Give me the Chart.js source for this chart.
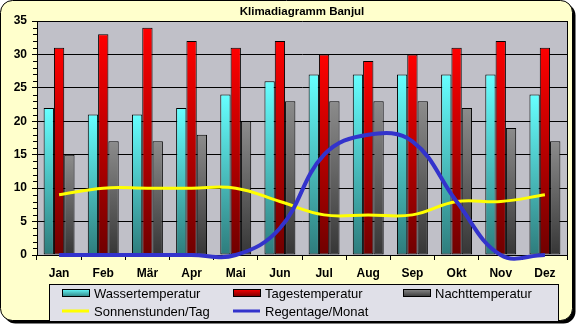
<!DOCTYPE html>
<html>
<head>
<meta charset="utf-8">
<script src="https://cdn.jsdelivr.net/npm/chart.js@4.4.1/dist/chart.umd.min.js"></script>
<style>
  html, body { margin: 0; padding: 0; background: #fff; }
</style>
</head>
<body>
<canvas id="klima" width="579" height="327"></canvas>
<script>
const months = ['Jan', 'Feb', 'Mär', 'Apr', 'Mai', 'Jun', 'Jul', 'Aug', 'Sep', 'Okt', 'Nov', 'Dez'];
const wasserTemp = [22, 21, 21, 22, 24, 26, 27, 27, 27, 27, 27, 24];
const tagesTemp = [31, 33, 34, 32, 31, 32, 30, 29, 30, 31, 32, 31];
const nachtTemp = [15, 17, 17, 18, 20, 23, 23, 23, 23, 22, 19, 17];
const sonnenstunden = [9, 10, 10, 10, 10, 8, 6, 6, 6, 8, 8, 9];
const regentage = [0, 0, 0, 0, 0, 4, 15, 18, 17, 8, 0, 0];
const yTicks = [0, 5, 10, 15, 20, 25, 30, 35];

const FONT = '"Liberation Sans", Arial, sans-serif';

// bar fill: light at the top of each bar, dark at the base
function barGradient(top, bottom) {
    return (context) => {
        const chart = context.chart;
        if (!chart.chartArea || context.parsed === undefined) return top;
        const y = chart.scales.y;
        const g = chart.ctx.createLinearGradient(0, y.getPixelForValue(context.parsed.y), 0, y.getPixelForValue(0));
        g.addColorStop(0, top);
        g.addColorStop(1, bottom);
        return g;
    };
}

function roundRect(ctx, x, y, w, h, r) {
    ctx.beginPath();
    ctx.moveTo(x + r, y);
    ctx.arcTo(x + w, y, x + w, y + h, r);
    ctx.arcTo(x + w, y + h, x, y + h, r);
    ctx.arcTo(x, y + h, x, y, r);
    ctx.arcTo(x, y, x + w, y, r);
    ctx.closePath();
}

const barColors = [
    ['#66FFFF', '#2E7C7C'],
    ['#FF0000', '#700000'],
    ['#8C8C8C', '#363636']
];

// frame, plot background, minor ticks and the legend box
const decorations = {
    id: 'decorations',
    beforeDraw(chart) {
        const ctx = chart.ctx;
        const a = chart.chartArea;
        ctx.save();
        roundRect(ctx, 3.5, 3.5, 572, 320, 12);
        ctx.fillStyle = '#000';
        ctx.fill();
        roundRect(ctx, 0.5, 0.5, 572, 320, 12);
        ctx.fillStyle = '#FFFFCC';
        ctx.fill();
        ctx.strokeStyle = '#000';
        ctx.lineWidth = 1;
        ctx.stroke();
        ctx.fillStyle = '#C0C0C8';
        ctx.fillRect(a.left, a.top, a.right - a.left, a.bottom - a.top);
        ctx.restore();
    },
    afterDraw(chart) {
        const ctx = chart.ctx;
        const a = chart.chartArea;
        const y = chart.scales.y;
        ctx.save();
        ctx.strokeStyle = '#000';
        ctx.lineWidth = 1;
        ctx.beginPath();
        for (let v = y.min; v <= y.max; v++) {
            if (v % 5 === 0) continue;
            const py = Math.round(y.getPixelForValue(v)) + 0.5;
            ctx.moveTo(a.left - 4, py);
            ctx.lineTo(a.left, py);
        }
        ctx.moveTo(Math.round(a.right) + 0.5, a.top);
        ctx.lineTo(Math.round(a.right) + 0.5, a.bottom);
        ctx.stroke();

        // legend
        ctx.fillStyle = '#E0E0E8';
        ctx.fillRect(49, 284, 509, 37);
        ctx.strokeRect(49.5, 284.5, 509, 37);
        const slots = [[62, 293], [233, 293], [403, 293], [62, 311], [233, 311]];
        ctx.font = '13px ' + FONT;
        ctx.textBaseline = 'middle';
        chart.data.datasets.forEach((ds, i) => {
            const [sx, sy] = slots[i];
            if (ds.type === 'line') {
                ctx.strokeStyle = ds.borderColor;
                ctx.lineWidth = 3;
                ctx.beginPath();
                ctx.moveTo(sx, sy);
                ctx.lineTo(sx + 27, sy);
                ctx.stroke();
            } else {
                const g = ctx.createLinearGradient(0, sy - 4, 0, sy + 4);
                g.addColorStop(0, barColors[i][0]);
                g.addColorStop(1, barColors[i][1]);
                ctx.fillStyle = g;
                ctx.fillRect(sx, sy - 4, 27, 8);
                ctx.strokeStyle = '#000';
                ctx.lineWidth = 1;
                ctx.strokeRect(sx + 0.5, sy - 3.5, 27, 7);
            }
            ctx.fillStyle = '#000';
            ctx.fillText(ds.label, sx + 32, sy + 1);
        });

        ctx.font = 'bold 11.5px ' + FONT;
        ctx.textAlign = 'center';
        ctx.fillText('Klimadiagramm Banjul', (a.left + a.right) / 2, 12);
        ctx.restore();
    }
};

new Chart(document.getElementById('klima'), {
    data: {
        labels: months,
        datasets: [
            { type: 'bar', label: 'Wassertemperatur', data: wasserTemp, order: 2,
              backgroundColor: barGradient(...barColors[0]) },
            { type: 'bar', label: 'Tagestemperatur', data: tagesTemp, order: 2,
              backgroundColor: barGradient(...barColors[1]) },
            { type: 'bar', label: 'Nachttemperatur', data: nachtTemp, order: 2,
              backgroundColor: barGradient(...barColors[2]) },
            { type: 'line', label: 'Sonnenstunden/Tag', data: sonnenstunden, order: 1,
              borderColor: '#FFFF00', borderWidth: 3, tension: 0.4, pointRadius: 0, clip: false },
            { type: 'line', label: 'Regentage/Monat', data: regentage, order: 0,
              borderColor: '#3333CC', borderWidth: 4, tension: 0.4, pointRadius: 0, clip: false }
        ]
    },
    options: {
        responsive: false,
        animation: false,
        layout: { padding: { left: 0, right: 12, top: 21, bottom: 42 } },
        datasets: {
            bar: { borderColor: '#000', borderWidth: 1, borderSkipped: false,
                   categoryPercentage: 0.7, barPercentage: 1 }
        },
        elements: { line: { capBezierPoints: false } },
        plugins: {
            legend: { display: false },
            title: { display: false },
            tooltip: { enabled: false }
        },
        scales: {
            x: {
                grid: { display: true, drawOnChartArea: false, offset: true, color: '#000', tickLength: 5 },
                border: { color: '#000' },
                ticks: { color: '#000', font: { family: FONT, size: 12, weight: 'bold' }, padding: 6 },
                afterFit: (scale) => { scale.height = 30; }
            },
            y: {
                min: 0,
                max: 35,
                afterBuildTicks: (scale) => { scale.ticks = yTicks.map(v => ({ value: v })); },
                grid: { color: '#000', tickLength: 5 },
                border: { color: '#000' },
                ticks: { color: '#000', font: { family: FONT, size: 12, weight: 'bold' }, padding: 5 },
                afterFit: (scale) => { scale.width = 37; }
            }
        }
    },
    plugins: [decorations]
});
</script>
</body>
</html>
